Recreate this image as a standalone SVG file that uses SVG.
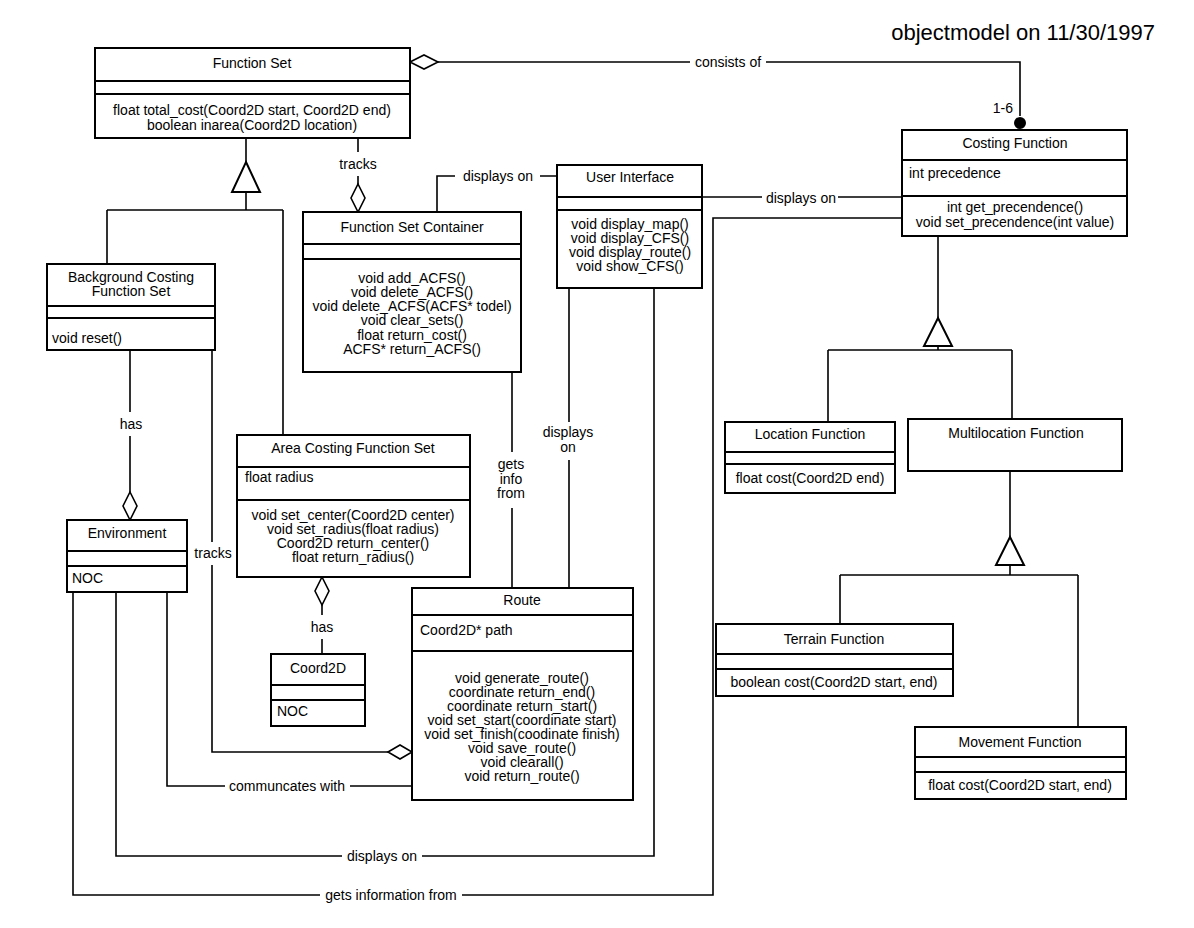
<svg xmlns="http://www.w3.org/2000/svg" width="1194" height="928" viewBox="0 0 1194 928">
<style>
text{font-family:"Liberation Sans",Arial,Helvetica,sans-serif;font-size:14px;fill:#000}
.c{text-anchor:middle}
.l{text-anchor:start}
.box{fill:#fff;stroke:#000;stroke-width:2}
.div{stroke:#000;stroke-width:2}
.ln{fill:none;stroke:#000;stroke-width:1.6}
.dia{fill:#fff;stroke:#000;stroke-width:1.6}
.tri{fill:#fff;stroke:#000;stroke-width:2}
.title{font-size:22px}
</style>
<rect width="1194" height="928" fill="#fff"/>
<text class="title" x="1155" y="40" text-anchor="end">objectmodel on 11/30/1997</text>

<g id="connectors">
  <!-- consists of -->
  <path class="ln" d="M438,62 H690 M766,62 H1020 V116"/>
  <polygon class="dia" points="410,62 424,55 438,62 424,69"/>
  <circle cx="1020" cy="123" r="6" fill="#000"/>
  <text x="1013" y="113" text-anchor="end">1-6</text>
  <text class="c" x="728" y="67">consists of</text>
  <!-- generalization Function Set -->
  <path class="ln" d="M246,138 V162 M246,192 V210 M107,210 H283 M107,210 V264 M283,210 V435"/>
  <polygon class="tri" points="246,162 260,192 232,192"/>
  <!-- tracks FS -> Container -->
  <path class="ln" d="M358,138 V152 M358,176 V184"/>
  <text class="c" x="358" y="169">tracks</text>
  <polygon class="dia" points="358,184 365,198 358,212 351,198"/>
  <!-- displays on Container -> UI -->
  <path class="ln" d="M437,212 V176 H455 M540,176 H557"/>
  <text class="c" x="498" y="181">displays on</text>
  <!-- displays on UI -> Costing -->
  <path class="ln" d="M702,197 H762 M838,197 H902"/>
  <text class="c" x="801" y="203">displays on</text>
  <!-- gets information from Environment -> Costing -->
  <path class="ln" d="M73,592 V895 H320 M462,895 H713 V218 H902"/>
  <text class="c" x="391" y="900">gets information from</text>
  <!-- displays on Environment -> UI -->
  <path class="ln" d="M116,592 V856 H342 M422,856 H654 V288"/>
  <text class="c" x="382" y="861">displays on</text>
  <!-- communcates with -->
  <path class="ln" d="M167,592 V786 H225 M350,786 H412"/>
  <text class="c" x="287" y="791">communcates with</text>
  <!-- tracks Background -> Route -->
  <path class="ln" d="M212,350 V542 M212,565 V752 H388"/>
  <text class="c" x="213" y="558">tracks</text>
  <polygon class="dia" points="388,752 400,745 412,752 400,759"/>
  <!-- has Background -> Environment -->
  <path class="ln" d="M130,350 V412 M130,436 V492"/>
  <text class="c" x="131" y="429">has</text>
  <polygon class="dia" points="130,492 137,506 130,520 123,506"/>
  <!-- has Area -> Coord2D -->
  <polygon class="dia" points="322,577 329,591 322,605 315,591"/>
  <path class="ln" d="M322,605 V615 M322,639 V654"/>
  <text class="c" x="322" y="632">has</text>
  <!-- gets info from Container -> Route -->
  <path class="ln" d="M512,372 V452 M512,508 V588"/>
  <text class="c" x="511" y="469">gets</text>
  <text class="c" x="511" y="484">info</text>
  <text class="c" x="511" y="498">from</text>
  <!-- displays on UI -> Route -->
  <path class="ln" d="M569,288 V422 M569,460 V588"/>
  <text class="c" x="568" y="437">displays</text>
  <text class="c" x="568" y="452">on</text>
  <!-- generalization Costing Function -->
  <path class="ln" d="M938,236 V318 M938,346 V350 M828,350 H1012 M828,350 V422 M1012,350 V419"/>
  <polygon class="tri" points="938,318 952,346 924,346"/>
  <!-- generalization Multilocation -->
  <path class="ln" d="M1010,471 V537 M1010,565 V575 M840,575 H1078 M840,575 V624 M1078,575 V727"/>
  <polygon class="tri" points="1010,537 1024,565 996,565"/>
</g>

<g id="function-set">
  <rect class="box" x="95" y="48" width="315" height="90"/>
  <path class="div" d="M95,81 H410 M95,94 H410"/>
  <text class="c" x="252" y="68">Function Set</text>
  <text class="c" x="252" y="115">float total_cost(Coord2D start, Coord2D end)</text>
  <text class="c" x="252" y="130">boolean inarea(Coord2D location)</text>
</g>

<g id="costing-function">
  <rect class="box" x="902" y="130" width="225" height="106"/>
  <path class="div" d="M902,160 H1127 M902,196 H1127"/>
  <text class="c" x="1015" y="148">Costing Function</text>
  <text class="l" x="909" y="178">int precedence</text>
  <text class="c" x="1015" y="212">int get_precendence()</text>
  <text class="c" x="1015" y="227">void set_precendence(int value)</text>
</g>

<g id="user-interface">
  <rect class="box" x="557" y="165" width="145" height="123"/>
  <path class="div" d="M557,197 H702 M557,210 H702"/>
  <text class="c" x="630" y="182">User Interface</text>
  <text class="c" x="630" y="229">void display_map()</text>
  <text class="c" x="630" y="243">void display_CFS()</text>
  <text class="c" x="630" y="257">void display_route()</text>
  <text class="c" x="630" y="271">void show_CFS()</text>
</g>

<g id="function-set-container">
  <rect class="box" x="303" y="212" width="218" height="160"/>
  <path class="div" d="M303,244 H521 M303,259 H521"/>
  <text class="c" x="412" y="232">Function Set Container</text>
  <text class="c" x="412" y="283">void add_ACFS()</text>
  <text class="c" x="412" y="297">void delete_ACFS()</text>
  <text class="c" x="412" y="311">void delete_ACFS(ACFS* todel)</text>
  <text class="c" x="412" y="325">void clear_sets()</text>
  <text class="c" x="412" y="340">float return_cost()</text>
  <text class="c" x="412" y="354">ACFS* return_ACFS()</text>
</g>

<g id="background-costing-function-set">
  <rect class="box" x="47" y="264" width="168" height="86"/>
  <path class="div" d="M47,306 H215 M47,318 H215"/>
  <text class="c" x="131" y="282">Background Costing</text>
  <text class="c" x="131" y="296">Function Set</text>
  <text class="l" x="52" y="343">void reset()</text>
</g>

<g id="area-costing-function-set">
  <rect class="box" x="237" y="435" width="233" height="142"/>
  <path class="div" d="M237,467 H470 M237,500 H470"/>
  <text class="c" x="353" y="453">Area Costing Function Set</text>
  <text class="l" x="245" y="482">float radius</text>
  <text class="c" x="353" y="520">void set_center(Coord2D center)</text>
  <text class="c" x="353" y="534">void set_radius(float radius)</text>
  <text class="c" x="353" y="548">Coord2D return_center()</text>
  <text class="c" x="353" y="562">float return_radius()</text>
</g>

<g id="environment">
  <rect class="box" x="67" y="520" width="120" height="72"/>
  <path class="div" d="M67,551 H187 M67,566 H187"/>
  <text class="c" x="127" y="538">Environment</text>
  <text class="l" x="72" y="583">NOC</text>
</g>

<g id="coord2d">
  <rect class="box" x="271" y="654" width="94" height="72"/>
  <path class="div" d="M271,685 H365 M271,700 H365"/>
  <text class="c" x="318" y="673">Coord2D</text>
  <text class="l" x="277" y="716">NOC</text>
</g>

<g id="route">
  <rect class="box" x="412" y="588" width="221" height="212"/>
  <path class="div" d="M412,615 H633 M412,651 H633"/>
  <text class="c" x="522" y="605">Route</text>
  <text class="l" x="420" y="635">Coord2D* path</text>
  <text class="c" x="522" y="683">void generate_route()</text>
  <text class="c" x="522" y="697">coordinate return_end()</text>
  <text class="c" x="522" y="711">coordinate return_start()</text>
  <text class="c" x="522" y="725">void set_start(coordinate start)</text>
  <text class="c" x="522" y="739">void set_finish(coodinate finish)</text>
  <text class="c" x="522" y="753">void save_route()</text>
  <text class="c" x="522" y="767">void clearall()</text>
  <text class="c" x="522" y="781">void return_route()</text>
</g>

<g id="location-function">
  <rect class="box" x="725" y="422" width="170" height="71"/>
  <path class="div" d="M725,452 H895 M725,464 H895"/>
  <text class="c" x="810" y="439">Location Function</text>
  <text class="c" x="810" y="483">float cost(Coord2D end)</text>
</g>

<g id="multilocation-function">
  <rect class="box" x="908" y="419" width="214" height="52"/>
  <text class="c" x="1016" y="438">Multilocation Function</text>
</g>

<g id="terrain-function">
  <rect class="box" x="716" y="624" width="237" height="72"/>
  <path class="div" d="M716,654 H953 M716,669 H953"/>
  <text class="c" x="834" y="644">Terrain Function</text>
  <text class="c" x="834" y="687">boolean cost(Coord2D start, end)</text>
</g>

<g id="movement-function">
  <rect class="box" x="915" y="727" width="211" height="72"/>
  <path class="div" d="M915,757 H1126 M915,772 H1126"/>
  <text class="c" x="1020" y="747">Movement Function</text>
  <text class="c" x="1020" y="790">float cost(Coord2D start, end)</text>
</g>
</svg>
